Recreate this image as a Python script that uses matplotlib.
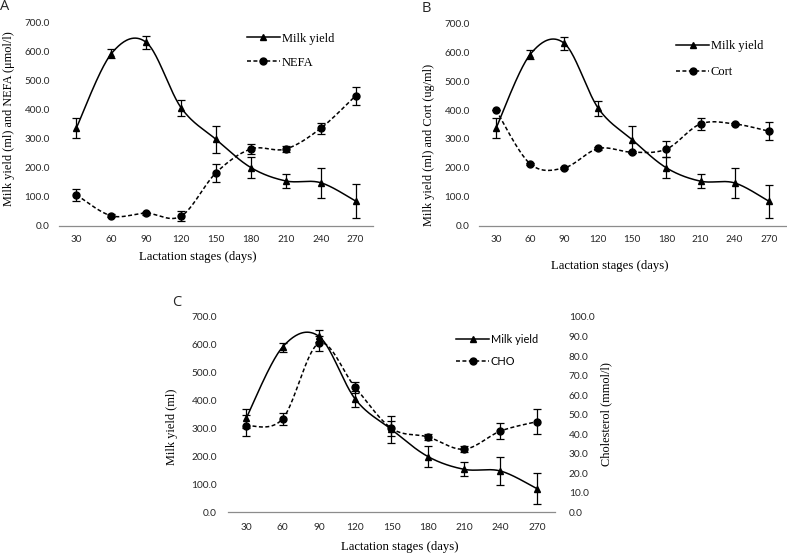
import numpy as np
import matplotlib
matplotlib.use('Agg')
import matplotlib.pyplot as plt
from matplotlib.lines import Line2D

# ---------------- data ----------------
stages = [30, 60, 90, 120, 150, 180, 210, 240, 270]
milk = [337, 592, 631, 406, 297, 200, 154, 148, 85]
milk_err = [34, 16, 22, 27, 47, 36, 25, 51, 57]
nefa = [106, 34, 43, 33, 182, 264, 264, 335, 447]
nefa_err = [20, 5, 5, 17, 32, 18, 10, 20, 31]
cort = [400, 214, 200, 267, 254, 265, 352, 352, 327]
cort_err = [0, 3, 3, 4, 4, 29, 22, 4, 32]
cho = [44.4, 47.8, 86.5, 64.0, 43.0, 38.6, 32.3, 41.6, 46.4]
cho_err = [5.4, 3.2, 3.7, 2.7, 4.0, 1.5, 1.5, 3.9, 6.4]

W, H = 787, 554
fig = plt.figure(figsize=(W / 100, H / 100), dpi=100)

TICK_FONT = 'Lato'
SERIF = 'Liberation Serif'
AXIS_GRAY = '#8c8c8c'
TXT = '#262626'


def smooth(y, n=40):
    """Excel-like smoothed line (Catmull-Rom Bezier) through category points."""
    y = np.asarray(y, float)
    x = np.arange(len(y), dtype=float)
    px = np.concatenate([[x[0]], x, [x[-1]]])
    py = np.concatenate([[y[0]], y, [y[-1]]])
    xs, ys = [], []
    t = np.linspace(0, 1, n)
    for i in range(len(y) - 1):
        p0x, p1x, p2x, p3x = px[i:i + 4]
        p0y, p1y, p2y, p3y = py[i:i + 4]
        c1x, c1y = p1x + (p2x - p0x) / 6, p1y + (p2y - p0y) / 6
        c2x, c2y = p2x - (p3x - p1x) / 6, p2y - (p3y - p1y) / 6
        b0, b1, b2, b3 = (1 - t) ** 3, 3 * (1 - t) ** 2 * t, 3 * (1 - t) * t ** 2, t ** 3
        xs.append(b0 * p1x + b1 * c1x + b2 * c2x + b3 * p2x)
        ys.append(b0 * p1y + b1 * c1y + b2 * c2y + b3 * p2y)
    return np.concatenate(xs), np.concatenate(ys)


def make_axes(l, r, t, b):
    ax = fig.add_axes([l / W, 1 - b / H, (r - l) / W, (b - t) / H])
    for s in ['top', 'right', 'left']:
        ax.spines[s].set_visible(False)
    ax.spines['bottom'].set_color(AXIS_GRAY)
    ax.spines['bottom'].set_linewidth(0.9)
    ax.set_xlim(-0.5, len(stages) - 0.5)
    ax.set_ylim(0, 700)
    ax.set_xticks(np.arange(len(stages)))
    ax.set_xticklabels([str(s) for s in stages])
    ax.set_yticks(np.arange(0, 701, 100))
    ax.set_yticklabels(['%.1f' % v for v in np.arange(0, 701, 100)])
    ax.tick_params(length=0, labelsize=7.2, colors=TXT, pad=6.5)
    for lab in ax.get_xticklabels() + ax.get_yticklabels():
        lab.set_fontfamily(TICK_FONT)
    ax.patch.set_alpha(0)
    return ax


DASH = (0, (2.6, 1.6))
MS = 5.0


def draw_series(ax, y, err, marker, dashed):
    xs, ys = smooth(y)
    ax.plot(xs, ys, color='black', lw=1.1, ls=DASH if dashed else '-', zorder=2)
    ax.errorbar(np.arange(len(y)), y, yerr=err, fmt=marker, color='black', ms=MS,
                ecolor='black', elinewidth=0.9, capsize=2.7, capthick=0.9, zorder=3)


def legend(ax, labels, x, ymid, fs, family, spacing):
    handles = [Line2D([], [], color='black', lw=1.1, ls='-', marker='^', ms=MS),
               Line2D([], [], color='black', lw=1.1, ls=DASH, marker='o', ms=MS)]
    fs_px = fs * 100 / 72
    ax.legend(handles, labels, loc='center left', bbox_to_anchor=(x / W, 1 - ymid / H),
              bbox_transform=fig.transFigure, frameon=False, borderpad=0, borderaxespad=0,
              handlelength=33 / fs_px, handletextpad=0.15, labelspacing=spacing,
              prop={'family': family, 'size': fs}, numpoints=1)


def ftext(x, y, s, **kw):
    fig.text(x / W, 1 - y / H, s, ha='center', va='center', **kw)


YL = 8.8
XL = 9.2

# ---------------- Panel A ----------------
axA = make_axes(59, 373, 22.3, 225.7)
draw_series(axA, milk, milk_err, '^', False)
draw_series(axA, nefa, nefa_err, 'o', True)
legend(axA, ['Milk yield', 'NEFA'], 246.7, 50.8, 9, SERIF, 0.95)
ftext(5, 6.5, 'A', fontsize=10.5, family='Open Sans', color=TXT)
ftext(9.3, 119, 'Milk yield (ml) and NEFA (μmol/l)', rotation=90, fontsize=YL, family=SERIF)
ftext(197.7, 257.3, 'Lactation stages (days)', fontsize=XL, family=SERIF)

# ---------------- Panel B ----------------
axB = make_axes(479, 785.7, 23.3, 225.7)
draw_series(axB, milk, milk_err, '^', False)
draw_series(axB, cort, cort_err, 'o', True)
legend(axB, ['Milk yield', 'Cort'], 676, 59.3, 9, SERIF, 1.1)
ftext(426.7, 9, 'B', fontsize=10.5, family='Open Sans', color=TXT)
ftext(429.3, 145, 'Milk yield (ml) and Cort (ug/ml)', rotation=90, fontsize=YL, family=SERIF)
ftext(609.5, 266, 'Lactation stages (days)', fontsize=XL, family=SERIF)

# ---------------- Panel C ----------------
axC = make_axes(228, 555, 317, 512.3)
axC.tick_params(pad=8, labelsize=7.3)
axC2 = axC.twinx()
for s in ['top', 'right', 'left', 'bottom']:
    axC2.spines[s].set_visible(False)
axC2.set_ylim(0, 100)
axC2.set_yticks(np.arange(0, 101, 10))
axC2.set_yticklabels(['%.1f' % v for v in np.arange(0, 101, 10)])
axC2.tick_params(length=0, labelsize=7.3, colors=TXT, pad=10)
for lab in axC2.get_yticklabels():
    lab.set_fontfamily(TICK_FONT)
draw_series(axC, milk, milk_err, '^', False)
draw_series(axC2, cho, cho_err, 'o', True)
legend(axC2, ['Milk yield', 'CHO'], 456, 350.5, 7.9, TICK_FONT, 1.0)
ftext(177.2, 302.5, 'C', fontsize=10.5, family='Open Sans', color=TXT)
ftext(171.7, 427, 'Milk yield (ml)', rotation=90, fontsize=YL, family=SERIF)
ftext(606, 414, 'Cholesterol (mmol/l)', rotation=90, fontsize=YL, family=SERIF)
ftext(400, 547.3, 'Lactation stages (days)', fontsize=XL, family=SERIF)

fig.savefig('out.png', dpi=100)
